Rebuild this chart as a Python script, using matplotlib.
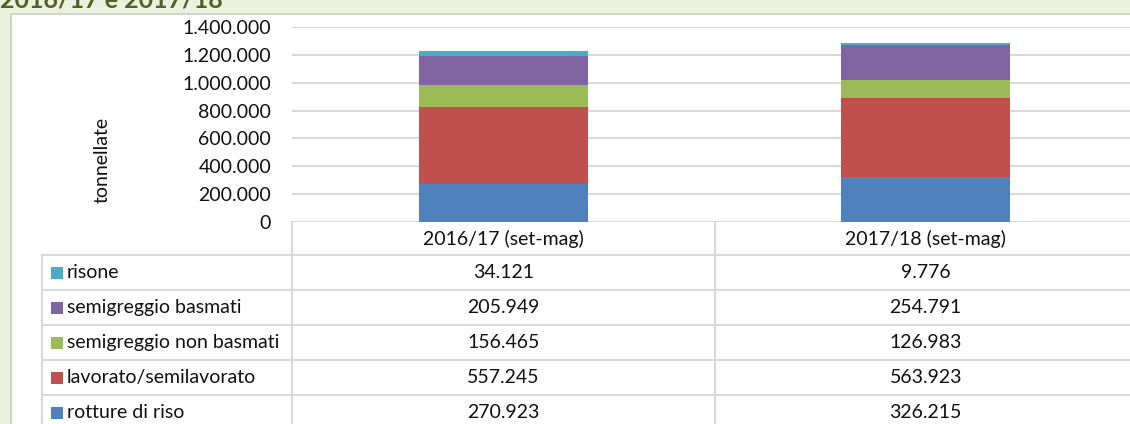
import matplotlib
matplotlib.use('Agg')
import matplotlib.pyplot as plt
from matplotlib.patches import Rectangle

# ---- data ----
categories = ['2016/17 (set-mag)', '2017/18 (set-mag)']
series_names = ['rotture di riso', 'lavorato/semilavorato', 'semigreggio non basmati',
                'semigreggio basmati', 'risone']
rotture = [270923, 326215]
lavorato = [557245, 563923]
non_basmati = [156465, 126983]
basmati = [205949, 254791]
risone = [34121, 9776]
y_ticks = [0, 200000, 400000, 600000, 800000, 1000000, 1200000, 1400000]
title = '2016/17 e 2017/18'
ylabel = 'tonnellate'

series_values = [rotture, lavorato, non_basmati, basmati, risone]
colors = ['#4F81BD', '#C0504D', '#9BBB59', '#8064A2', '#4BACC6']

FONT = 'Lato'
FS = 14.0
GRID = '#D9D9D9'
TXT = '#111111'


def fmt(v):
    return f'{v:,}'.replace(',', '.')


W, H = 1130, 424
fig = plt.figure(figsize=(W / 100, H / 100), dpi=100)
fig.patch.set_facecolor('#EBF1DE')

# pixel-coordinate overlay for frame, table and title
bg = fig.add_axes([0, 0, 1, 1], zorder=0)
bg.set_xlim(0, W)
bg.set_ylim(H, 0)
bg.axis('off')
bg.add_patch(Rectangle((11, 14), W + 20, H + 20, facecolor='white',
                       edgecolor='#C8CFC0', lw=1.2))
bg.text(0, 7, title, fontsize=18, fontweight='bold', color='#4F6228',
        family=FONT, va='baseline', ha='left')

# main chart axes
L, R, T, B = 292, 1137, 27, 222
ax = fig.add_axes([L / W, (H - B) / H, (R - L) / W, (B - T) / H], zorder=1)
ax.set_facecolor('none')
x = list(range(len(categories)))
bottom = [0] * len(categories)
for vals, col, name in zip(series_values, colors, series_names):
    ax.bar(x, vals, width=0.4, bottom=bottom, color=col, label=name, zorder=3)
    bottom = [b + v for b, v in zip(bottom, vals)]
ax.set_xlim(-0.5, len(categories) - 0.5)
ax.set_ylim(y_ticks[0], y_ticks[-1])
ax.set_yticks(y_ticks)
ax.set_yticklabels([fmt(t) for t in y_ticks], family=FONT, fontsize=FS, color=TXT)
ax.set_xticks([])
ax.tick_params(axis='y', length=0, pad=15)
ax.yaxis.grid(True, color=GRID, lw=1.5)
ax.set_axisbelow(True)
for s in ax.spines.values():
    s.set_visible(False)
ax.set_ylabel(ylabel, family=FONT, fontsize=FS, color=TXT)
ax.yaxis.label.set_verticalalignment('center')
ax.yaxis.set_label_coords((102 - L) / (R - L), (B - 160) / (B - T))

# ---- data table ----
to_bg = bg.transData.inverted()


def px_x(xd):
    return to_bg.transform(ax.transData.transform((xd, 0)))[0]


edges = [px_x(i - 0.5) for i in range(len(categories) + 1)]
centers = [px_x(i) for i in range(len(categories))]
row_h = 35
header_top = B
header_bot = B + 33
left_x = 42
line_kw = dict(color=GRID, lw=1.5, zorder=2)

# vertical lines
for e in edges:
    bg.plot([e, e], [header_top, H + 10], **line_kw)
bg.plot([left_x, left_x], [header_bot, H + 10], **line_kw)

# header labels
for c, lab in zip(centers, categories):
    bg.text(c, (header_top + header_bot) / 2, lab, ha='center', va='center',
            family=FONT, fontsize=FS, color=TXT)

rows = list(zip(series_names, series_values, colors))[::-1]
for i, (name, vals, col) in enumerate(rows):
    top = header_bot + i * row_h
    bg.plot([left_x, W + 10], [top, top], **line_kw)
    cy = top + row_h / 2
    bg.add_patch(Rectangle((51, cy - 6), 12, 12, facecolor=col, edgecolor='none'))
    bg.text(67, cy, name, ha='left', va='center', family=FONT, fontsize=FS, color=TXT)
    for c, v in zip(centers, vals):
        bg.text(c, cy, fmt(v), ha='center', va='center', family=FONT, fontsize=FS,
                color=TXT)

fig.savefig('out.png', dpi=100, facecolor=fig.get_facecolor())
